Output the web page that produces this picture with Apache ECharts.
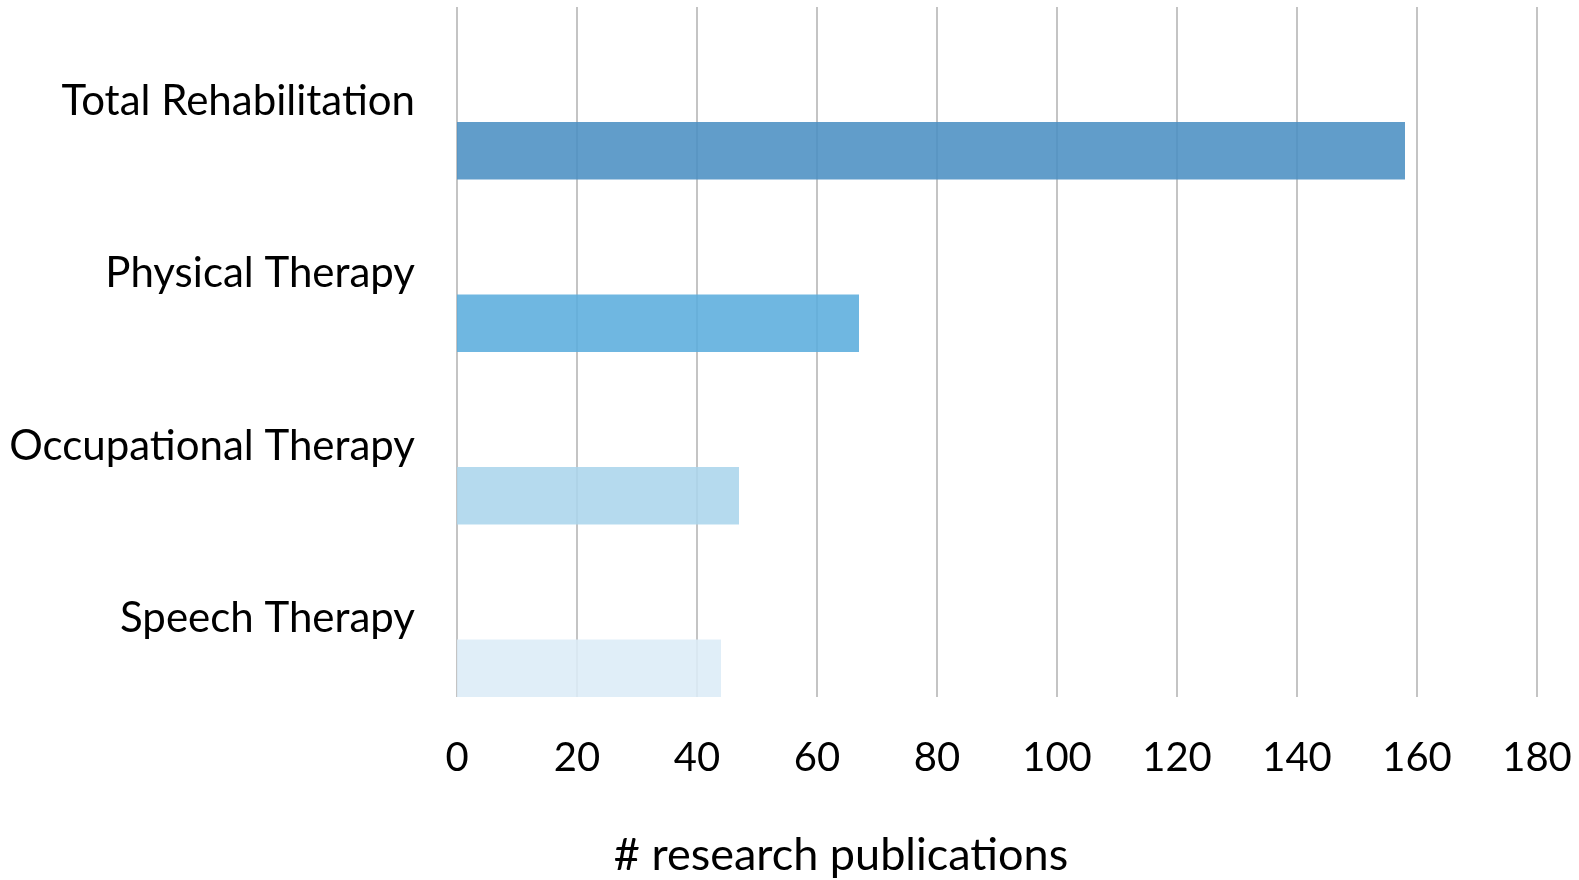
<!DOCTYPE html>
<html>
<head>
<meta charset="utf-8">
<title># research publications</title>
<script src="https://cdn.jsdelivr.net/npm/echarts@6/dist/echarts.min.js"></script>
<style>
  html, body { margin: 0; padding: 0; background: #ffffff; }
  #chart { width: 1579px; height: 880px; }
</style>
</head>
<body>
<div id="chart"></div>
<script>
// Publication counts per rehabilitation field
const categories = ['Total Rehabilitation', 'Physical Therapy', 'Occupational Therapy', 'Speech Therapy'];
const publications = [158, 67, 47, 44];
const barColors = ['#4a8fc2', '#5aacdc', '#aad4ec', '#dbecf7'];
const axisTitle = '# research publications';

const FONT = 'Lato, "Open Sans", sans-serif';

const chart = echarts.init(document.getElementById('chart'), null, { renderer: 'canvas' });

// Each category band holds three slots; the counts occupy the last one.
const emptySlot = categories.map(() => '-');

chart.setOption({
  backgroundColor: '#ffffff',
  animation: false,
  grid: { left: 457, right: 42, top: 7, bottom: 183, containLabel: false, outerBoundsMode: 'none' },
  xAxis: {
    type: 'value',
    min: 0,
    max: 180,
    interval: 20,
    axisLine: { show: false },
    axisTick: { show: false },
    splitLine: { show: true, lineStyle: { color: '#c4c4c4', width: 2 } },
    axisLabel: { color: '#000000', fontFamily: FONT, fontSize: 40, margin: 41 },
    name: axisTitle,
    nameLocation: 'middle',
    nameGap: 136,
    nameTextStyle: { color: '#000000', fontFamily: FONT, fontSize: 45, padding: [0, 312, 0, 0] }
  },
  yAxis: {
    type: 'category',
    inverse: true,
    data: categories,
    axisLine: { show: false },
    axisTick: { show: false },
    splitLine: { show: false },
    axisLabel: {
      color: '#000000', fontFamily: FONT, fontSize: 42, margin: 42,
      verticalAlign: 'top', lineHeight: 16
    }
  },
  series: [
    { type: 'bar', data: emptySlot, barGap: '0%', barCategoryGap: '0%', silent: true },
    { type: 'bar', data: emptySlot, barGap: '0%', barCategoryGap: '0%', silent: true },
    {
      type: 'bar',
      barGap: '0%',
      barCategoryGap: '0%',
      data: publications.map((v, i) => ({ value: v, itemStyle: { color: barColors[i], opacity: 0.87 } }))
    }
  ]
});
</script>
</body>
</html>
